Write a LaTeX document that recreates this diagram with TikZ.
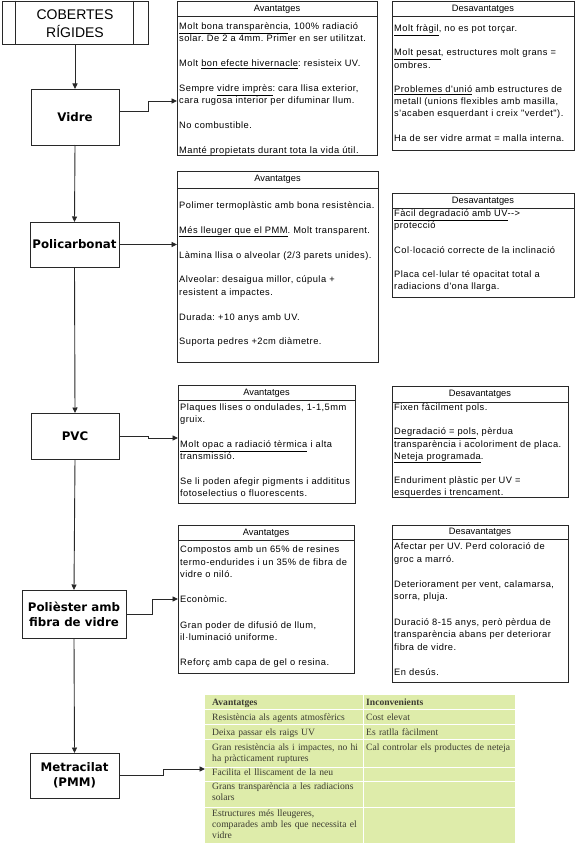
\documentclass[tikz,border=0pt]{standalone}
\usepackage{fontspec}
\setmainfont{Liberation Sans}
\newfontfamily\bodyf[LetterSpace=5]{Liberation Sans}
\newfontfamily\hdrf{Liberation Sans}
\newfontfamily\lblf{DejaVu Sans}
\newfontfamily\tabf{Liberation Serif}
\usetikzlibrary{arrows.meta,calc}
\definecolor{ln}{RGB}{40,40,40}
\definecolor{tabgreen}{RGB}{222,236,170}
\definecolor{tabtext}{RGB}{60,60,50}
\frenchspacing
\begin{document}
\frenchspacing
\begin{tikzpicture}[x=1pt,y=-1pt,
  box/.style={draw=ln, line width=0.9pt, rectangle, inner sep=0pt, outer sep=0pt, anchor=north west},
  hline/.style={draw=ln, line width=0.9pt},
  hdr/.style={font=\hdrf\fontsize{9.3}{11}\selectfont, inner sep=0pt},
  body/.style={font=\bodyf\fontsize{9.3}{#1}\selectfont\frenchspacing, text width=260pt, align=left, inner sep=0pt, anchor=base west},
  body/.default=12.4,
  lbl/.style={draw=ln, line width=0.9pt, rectangle, inner sep=0pt, outer sep=0pt, font=\lblf\bfseries\fontsize{11.8}{15}\selectfont, align=center},
  ttl/.style={inner sep=0pt, font=\fontsize{14}{18}\selectfont, align=center},
  arr/.style={draw=ln, line width=0.9pt, -{Triangle[length=5.5pt,width=5pt]}},
  tabt/.style={font=\tabf\fontsize{9.6}{10.8}\selectfont\frenchspacing, text=tabtext, inner sep=0pt, anchor=base west, align=left, text width=152pt},
  tabsep/.style={draw=white, line width=0.9pt}
]
\useasboundingbox (0,0) rectangle (578,848);

% ---------- title ----------
\node[draw=ln, line width=0.9pt, rectangle, inner sep=0pt, minimum width=146pt, minimum height=43pt] (cob) at (75,22.5) {};
\draw[hline] ([xshift=14pt]cob.north west) -- ([xshift=14pt]cob.south west);
\draw[hline] ([xshift=-15pt]cob.north east) -- ([xshift=-15pt]cob.south east);
\node[ttl] (cobt) at (75,24) {COBERTES\\RÍGIDES};

% ---------- left labels ----------
\node[lbl, minimum width=88pt, minimum height=56pt] (vidre) at (75,117) {Vidre};
\node[lbl, minimum width=89pt, minimum height=45pt] (poli) at (74.5,244.5) {Policarbonat};
\node[lbl, minimum width=88pt, minimum height=46pt] (pvc) at (75,436) {PVC};
\node[lbl, minimum width=104pt, minimum height=48pt] (pol) at (74,614) {Polièster amb\\fibra de vidre};
\node[lbl, minimum width=89pt, minimum height=45pt] (met) at (74.5,775.5) {Metracilat\\(PMM)};

\draw[arr] (cob.south) -- (vidre.north);
\draw[arr] (vidre.south) -- (poli.north);
\draw[arr] (poli.south) -- (pvc.north);
\draw[arr] (pvc.south) -- (pol.north);
\draw[arr] (pol.south) -- (met.north);

% ---------- Vidre ----------
\node[box, minimum width=200pt, minimum height=154pt] (va) at (177,1) {};
\draw[hline] ([yshift=-15pt]va.north west) -- ([yshift=-15pt]va.north east);
\node[hdr] (vah) at ([yshift=-8pt]va.north) {Avantatges};
\node[body] (vab) at (179,29.5) {\underline{Molt bona transparència}, 100\% radiació\\
solar. De 2 a 4mm. Primer en ser utilitzat.\\[\baselineskip]
Molt \underline{bon efecte hivernacle}: resisteix UV.\\[\baselineskip]
Sempre \underline{vidre imprès}: cara llisa exterior,\\
cara rugosa interior per difuminar llum.\\[\baselineskip]
No combustible.\\[\baselineskip]
Manté propietats durant tota la vida útil.};

\node[box, minimum width=182pt, minimum height=149pt] (vd) at (392,1) {};
\draw[hline] ([yshift=-15pt]vd.north west) -- ([yshift=-15pt]vd.north east);
\node[hdr] (vdh) at ([yshift=-8pt]vd.north) {Desavantatges};
\node[body=12.2] (vdb) at (394,31.5) {\underline{Molt fràgil}, no es pot torçar.\\[\baselineskip]
\underline{Molt pesat}, estructures molt grans =\\
ombres.\\[\baselineskip]
\underline{Problemes d'unió} amb estructures de\\
metall (unions flexibles amb masilla,\\
s'acaben esquerdant i creix "verdet").\\[\baselineskip]
Ha de ser vidre armat = malla interna.};

\draw[arr] ([yshift=6pt]vidre.east) -- ++(29,0) |- (va.west |- 0,101);

% ---------- Policarbonat ----------
\node[box, minimum width=201pt, minimum height=191pt] (pa) at (177,171) {};
\draw[hline] ([yshift=-17pt]pa.north west) -- ([yshift=-17pt]pa.north east);
\node[hdr] (pah) at ([yshift=-8.5pt]pa.north) {Avantatges};
\node[body] (pab) at (179,208.5) {Polimer termoplàstic amb bona resistència.\\[\baselineskip]
\underline{Més lleuger que el PMM}. Molt transparent.\\[\baselineskip]
Làmina llisa o alveolar (2/3 parets unides).\\[\baselineskip]
Alveolar: desaigua millor, cúpula +\\
resistent a impactes.\\[\baselineskip]
Durada: +10 anys amb UV.\\[\baselineskip]
Suporta pedres +2cm diàmetre.};

\node[box, minimum width=182pt, minimum height=104pt] (pd) at (392,193) {};
\draw[hline] ([yshift=-15pt]pd.north west) -- ([yshift=-15pt]pd.north east);
\node[hdr] (pdh) at ([yshift=-8pt]pd.north) {Desavantatges};
\node[body=12.2] (pdb) at (394,216.5) {\underline{Fàcil degradació amb UV}-{}->\\
protecció\\[\baselineskip]
Col·locació correcte de la inclinació\\[\baselineskip]
Placa cel·lular té opacitat total a\\
radiacions d'ona llarga.};

\draw[arr] (poli.east) -- (pa.west |- poli.east);

% ---------- PVC ----------
\node[box, minimum width=177pt, minimum height=118pt] (pvca) at (178,385) {};
\draw[hline] ([yshift=-15pt]pvca.north west) -- ([yshift=-15pt]pvca.north east);
\node[hdr] (pvcah) at ([yshift=-8pt]pvca.north) {Avantatges};
\node[body=12.3] (pvcab) at (180,410.5) {Plaques llises o ondulades, 1-1,5mm\\
gruix.\\[\baselineskip]
\underline{Molt opac a radiació tèrmica} i alta\\
transmissió.\\[\baselineskip]
Se li poden afegir pigments i addititus\\
fotoselectius o fluorescents.};

\node[box, minimum width=176pt, minimum height=111pt] (pvcd) at (392,386) {};
\draw[hline] ([yshift=-16pt]pvcd.north west) -- ([yshift=-16pt]pvcd.north east);
\node[hdr] (pvcdh) at ([yshift=-8.5pt]pvcd.north) {Desavantatges};
\node[body=12.2] (pvcdb) at (394,410.5) {Fixen fàcilment pols.\\[\baselineskip]
\underline{Degradació = pols}, pèrdua\\
transparència i acoloriment de placa.\\
\underline{Neteja programada}.\\[\baselineskip]
Enduriment plàstic per UV =\\
esquerdes i trencament.};

\draw[arr] (pvc.east) -- ++(29,0) |- (pvca.west |- 0,438);

% ---------- Polièster ----------
\node[box, minimum width=176pt, minimum height=148pt] (pola) at (178,525) {};
\draw[hline] ([yshift=-15pt]pola.north west) -- ([yshift=-15pt]pola.north east);
\node[hdr] (polah) at ([yshift=-8pt]pola.north) {Avantatges};
\node[body=12.6] (polab) at (180,552.5) {Compostos amb un 65\% de resines\\
termo-endurides i un 35\% de fibra de\\
vidre o niló.\\[\baselineskip]
Econòmic.\\[\baselineskip]
Gran poder de difusió de llum,\\
il·luminació uniforme.\\[\baselineskip]
Reforç amb capa de gel o resina.};

\node[box, minimum width=176pt, minimum height=157pt] (pold) at (392,525) {};
\draw[hline] ([yshift=-14pt]pold.north west) -- ([yshift=-14pt]pold.north east);
\node[hdr] (poldh) at ([yshift=-7.5pt]pold.north) {Desavantatges};
\node[body=12.6] (poldb) at (394,549.5) {Afectar per UV. Perd coloració de\\
groc a marró.\\[\baselineskip]
Deteriorament per vent, calamarsa,\\
sorra, pluja.\\[\baselineskip]
Duració 8-15 anys, però pèrdua de\\
transparència abans per deteriorar\\
fibra de vidre.\\[\baselineskip]
En desús.};

\draw[arr] (pol.east) -- ++(26,0) |- (pola.west |- 0,599);

% ---------- Metracilat table ----------
\node[fill=tabgreen, inner sep=0pt, outer sep=0pt, minimum width=310pt, minimum height=148pt, anchor=north west] (tab) at (205,695) {};
\foreach \yy in {709,724,739,767,781,807}{
  \draw[tabsep] (tab.west |- 0,\yy) -- (tab.east |- 0,\yy);
}
\draw[tabsep] (363,695) -- (363,843);

\node[tabt] (th1) at (212,705) {\bfseries Avantatges};
\node[tabt] (th2) at (366,705) {\bfseries Inconvenients};
\node[tabt] (ta1) at (212,720) {Resistència als agents atmosfèrics};
\node[tabt] (tb1) at (366,720) {Cost elevat};
\node[tabt] (ta2) at (212,735) {Deixa passar els raigs UV};
\node[tabt] (tb2) at (366,735) {Es ratlla fàcilment};
\node[tabt] (ta3) at (212,750.5) {Gran resistència als i impactes, no hi\\ha pràcticament ruptures};
\node[tabt] (tb3) at (366,750.5) {Cal controlar els productes de neteja};
\node[tabt] (ta4) at (212,775) {Facilita el lliscament de la neu};
\node[tabt] (ta5) at (212,789.5) {Grans transparència a les radiacions\\solars};
\node[tabt] (ta6) at (212,816.5) {Estructures més lleugeres,\\comparades amb les que necessita el\\vidre};

\draw[arr] (met.east) -- ++(44,0) |- (tab.west |- 0,769);
\end{tikzpicture}
\end{document}
